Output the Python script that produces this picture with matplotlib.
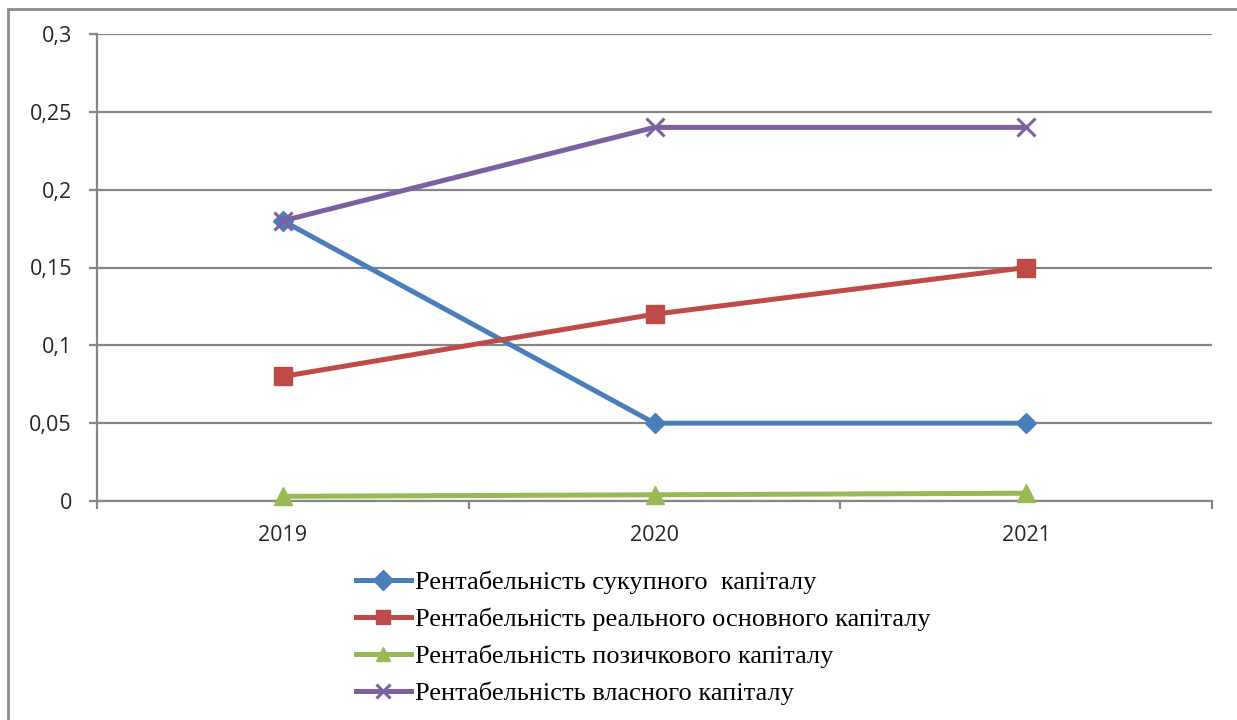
import matplotlib
matplotlib.use("Agg")
import matplotlib.pyplot as plt
from matplotlib.patches import Rectangle
from matplotlib.ticker import FixedLocator, FuncFormatter

years = ["2019", "2020", "2021"]
total_capital = [0.18, 0.05, 0.05]
fixed_capital = [0.08, 0.12, 0.15]
loan_capital = [0.003, 0.004, 0.005]
equity_capital = [0.18, 0.24, 0.24]

labels = [
    "Рентабельність сукупного  капіталу",
    "Рентабельність реального основного капіталу",
    "Рентабельність позичкового капіталу",
    "Рентабельність власного капіталу",
]
y_ticks = [0, 0.05, 0.1, 0.15, 0.2, 0.25, 0.3]

fig = plt.figure(figsize=(12.37, 7.2), dpi=100)
W, H = 1237, 720

# outer chart frame
fig.patches.append(Rectangle((8 / W, -0.1), 1.2, (720 - 9) / H + 0.1,
                             transform=fig.transFigure, fill=False,
                             edgecolor="#8c8c8c", linewidth=2))

ax = fig.add_axes([97 / W, 1 - 501 / H, (1212 - 97) / W, (501 - 34) / H])
x = list(range(len(years)))

ax.plot(x, total_capital, color="#4A7EBB", lw=3.6, marker="D", ms=10,
        label=labels[0], zorder=3)
ax.plot(x, fixed_capital, color="#BE4B48", lw=3.6, marker="s", ms=13,
        label=labels[1], zorder=3)
ax.plot(x, loan_capital, color="#98B954", lw=3.6, marker="^", ms=13,
        label=labels[2], zorder=3, clip_on=False)
ax.plot(x, equity_capital, color="#7D60A0", lw=3.6, marker="x", ms=13,
        mew=2.2, label=labels[3], zorder=3)

ax.set_xlim(-0.5, 2.5)
ax.set_ylim(0, 0.3)
ax.yaxis.set_major_locator(FixedLocator(y_ticks))
ax.yaxis.set_major_formatter(FuncFormatter(
    lambda v, p: ("%g" % round(v, 3)).replace(".", ",")))
ax.grid(axis="y", color="#868686", lw=1.6)
ax.set_axisbelow(True)

ax.xaxis.set_major_locator(FixedLocator([-0.5, 0.5, 1.5, 2.5]))
ax.xaxis.set_major_formatter(FuncFormatter(lambda v, p: ""))
ax.xaxis.set_minor_locator(FixedLocator(x))
ax.xaxis.set_minor_formatter(FuncFormatter(lambda v, p: years[int(round(v))]))
ax.tick_params(axis="x", which="minor", length=0, pad=17,
               labelsize=15.5, labelcolor="#262626")
ax.tick_params(axis="x", which="major", length=6, width=1.6, color="#868686")
ax.tick_params(axis="y", length=6, width=1.6, color="#868686",
               labelsize=15.5, labelcolor="#262626", pad=12)
for lab in ax.get_xticklabels(minor=True) + ax.get_yticklabels():
    lab.set_fontfamily("Open Sans")

for side in ("top", "right"):
    ax.spines[side].set_visible(False)
for side in ("left", "bottom"):
    ax.spines[side].set_color("#868686")
    ax.spines[side].set_linewidth(1.6)

leg = fig.legend(loc="upper left", bbox_to_anchor=(345 / W, 1 - 560 / H),
                 frameon=False, prop={"family": "Liberation Serif", "size": 19},
                 handlelength=2.1, handletextpad=0.15, labelspacing=0.51,
                 borderaxespad=0)
for line in leg.get_lines():
    line.set_markersize(10)

fig.savefig("out.png", dpi=100)
